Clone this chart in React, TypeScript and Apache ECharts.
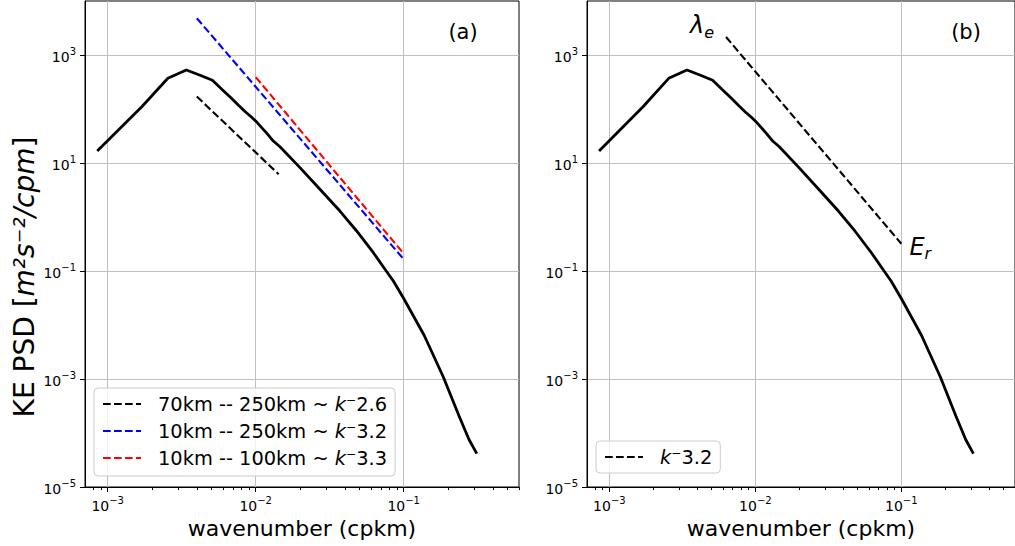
import React, { useEffect, useRef } from "react";
import * as echarts from "echarts";

// ---- data ----
const curveK = [0.00085, 0.0017, 0.00255, 0.0034, 0.00425, 0.0051, 0.00595, 0.0068, 0.00765, 0.0085, 0.00935, 0.0102, 0.0119, 0.01315, 0.01459, 0.01991, 0.02716, 0.03707, 0.04808, 0.06237, 0.07621, 0.08511, 0.1, 0.1374, 0.1849, 0.2366, 0.2761, 0.3119];
const curvePSD = [16.7, 110, 370, 527, 417, 340, 228, 162, 117, 89, 71, 56.6, 35.4, 25.5, 20.0, 8.2, 3.26, 1.29, 0.551, 0.218, 0.1, 0.0653, 0.0309, 0.00646, 0.0011, 0.000207, 0.0000759, 0.0000414];

const fitA_K = [0.004, 0.01429];
const fitA_PSD = [170, 6.2];
const fitB_K = [0.004, 0.1];
const fitB_PSD = [4800, 0.165];
const fitC_K = [0.01, 0.1];
const fitC_PSD = [390, 0.21];
const fitD_K = [0.0063, 0.1];
const fitD_PSD = [2150, 0.32];

const legendA = ["70km -- 250km ~ k^-2.6", "10km -- 250km ~ k^-3.2", "10km -- 100km ~ k^-3.3"];
const legendB = ["k^-3.2"];

const xMajorExp = [-3, -2, -1];
const yMajorExp = [-5, -3, -1, 1, 3];

const X_MIN = -3.1534;
const X_MAX = -0.221;
const Y_MIN = -5;
const Y_MAX = 4;

const FONT = "DejaVu Sans";

const L = (v: number) => Math.log10(v);
const pts = (ks: number[], vs: number[]) => ks.map((k, i) => [L(k), L(vs[i])]);

const xMinor: number[] = [];
for (let e = -4; e <= -1; e++) {
  for (let m = 2; m <= 9; m++) {
    const v = e + Math.log10(m);
    if (v > X_MIN && v < X_MAX) xMinor.push(v);
  }
}

const powLabel = (v: number) => "{b|10}{s|" + String(Math.round(v)).replace("-", "−") + "}";
const tickRich = {
  b: { fontFamily: FONT, fontSize: 14, color: "#000", lineHeight: 18, verticalAlign: "bottom" },
  s: { fontFamily: FONT, fontSize: 10, color: "#000", lineHeight: 10, verticalAlign: "top" },
};

const legendFmt = (name: string) => {
  const [pre, exp] = name.split("k^-");
  return pre + "{i|k}⁻" + exp;
};

const axisLineStyle = { color: "#000", width: 1 };
const gridLineStyle = { color: "#bfbfbf", width: 1 };

const makeX = (gi: number) => [
  {
    type: "value",
    gridIndex: gi,
    min: X_MIN,
    max: X_MAX,
    position: "bottom",
    axisLine: { show: true, onZero: false, lineStyle: axisLineStyle },
    axisTick: { show: true, customValues: xMajorExp, length: 5, lineStyle: axisLineStyle },
    axisLabel: {
      show: true,
      customValues: xMajorExp,
      formatter: powLabel,
      color: "#000",
      fontFamily: FONT,
      fontSize: 14,
      margin: 8,
      rich: tickRich,
    },
    splitLine: { show: true, lineStyle: gridLineStyle },
    name: "wavenumber (cpkm)",
    nameLocation: "middle",
    nameGap: 28,
    nameTextStyle: { fontFamily: FONT, fontSize: 22, color: "#000" },
  },
  {
    type: "value",
    gridIndex: gi,
    min: X_MIN,
    max: X_MAX,
    position: "bottom",
    axisLine: { show: false, onZero: false },
    axisTick: { show: true, customValues: xMinor, length: 3, lineStyle: axisLineStyle },
    axisLabel: { show: false },
    splitLine: { show: false },
  },
];

const makeY = (gi: number) => ({
  type: "value",
  gridIndex: gi,
  min: Y_MIN,
  max: Y_MAX,
  position: "left",
  axisLine: { show: true, onZero: false, lineStyle: axisLineStyle },
  axisTick: { show: true, customValues: yMajorExp, length: 5, lineStyle: axisLineStyle },
  axisLabel: {
    show: true,
    customValues: yMajorExp,
    formatter: powLabel,
    color: "#000",
    fontFamily: FONT,
    fontSize: 14,
    margin: 9,
    rich: tickRich,
  },
  splitLine: { show: true, lineStyle: gridLineStyle },
});

const dash = [7.7, 3.3];

export default function App() {
  const ref = useRef<HTMLDivElement>(null);
  useEffect(() => {
    if (!ref.current) return;
    const chart = echarts.init(ref.current, undefined, { renderer: "svg" });
    const curve = pts(curveK, curvePSD);
    const legendCommon = {
      orient: "vertical",
      itemWidth: 38,
      itemHeight: 14,
      itemGap: 7,
      backgroundColor: "rgba(255,255,255,0.8)",
      borderColor: "#cccccc",
      borderWidth: 1,
      borderRadius: 4,
      selectedMode: false,
      formatter: legendFmt,
      itemStyle: { color: "rgba(0,0,0,0)", borderColor: "rgba(0,0,0,0)", borderWidth: 0, opacity: 0 },
      textStyle: {
        fontFamily: FONT,
        fontSize: 19.4,
        color: "#000",
        lineHeight: 20,
        padding: [0, 0, 0, 12],
        rich: { i: { fontFamily: FONT, fontSize: 19.4, color: "#000", fontStyle: "italic" } },
      },
    };
    const option: any = {
      animation: false,
      backgroundColor: "#fff",
      grid: [
        { left: 85, top: 1, width: 434, height: 486, show: true, borderColor: "#000", borderWidth: 1, backgroundColor: "transparent" },
        { left: 587, top: 1, width: 434, height: 486, show: true, borderColor: "#000", borderWidth: 1, backgroundColor: "transparent" },
      ],
      xAxis: [...makeX(0), ...makeX(1)],
      yAxis: [makeY(0), makeY(1)],
      legend: [
        { ...legendCommon, data: legendA, left: 94, top: 388, padding: [6, 8, 8, 8] },
        { ...legendCommon, data: legendB, left: 596, top: 441, padding: [6, 8, 6, 8] },
      ],
      graphic: [
        {
          type: "text",
          x: 24,
          y: 277,
          rotation: Math.PI / 2,
          style: {
            text: "{n|KE PSD [}{i|m²s⁻²/cpm}{n|]}",
            align: "center",
            verticalAlign: "middle",
            rich: {
              n: { fontFamily: FONT, fontSize: 28, fill: "#000", color: "#000" },
              i: { fontFamily: FONT, fontSize: 28, fill: "#000", color: "#000", fontStyle: "italic" },
            },
          },
        },
        { type: "text", x: 463, y: 32, style: { text: "(a)", fontFamily: FONT, fontSize: 21, fill: "#000", align: "center", verticalAlign: "middle" } },
        { type: "text", x: 966, y: 32, style: { text: "(b)", fontFamily: FONT, fontSize: 21, fill: "#000", align: "center", verticalAlign: "middle" } },
      ],
      series: [
        { type: "line", name: "KE (a)", xAxisIndex: 0, yAxisIndex: 0, data: curve, symbol: "none", lineStyle: { color: "#000", width: 2.8 }, z: 3 },
        { type: "line", name: legendA[0], xAxisIndex: 0, yAxisIndex: 0, data: pts(fitA_K, fitA_PSD), symbol: "none", color: "#000", lineStyle: { color: "#000", width: 2.1, type: dash }, z: 4 },
        { type: "line", name: legendA[1], xAxisIndex: 0, yAxisIndex: 0, data: pts(fitB_K, fitB_PSD), symbol: "none", color: "#0000ff", lineStyle: { color: "#0000ff", width: 2.1, type: dash }, z: 4 },
        { type: "line", name: legendA[2], xAxisIndex: 0, yAxisIndex: 0, data: pts(fitC_K, fitC_PSD), symbol: "none", color: "#ff0000", lineStyle: { color: "#ff0000", width: 2.1, type: dash }, z: 4 },
        { type: "line", name: "KE (b)", xAxisIndex: 2, yAxisIndex: 1, data: curve, symbol: "none", lineStyle: { color: "#000", width: 2.8 }, z: 3 },
        {
          type: "line",
          name: legendB[0],
          xAxisIndex: 2,
          yAxisIndex: 1,
          data: pts(fitD_K, fitD_PSD),
          symbol: "none",
          color: "#000",
          lineStyle: { color: "#000", width: 2.1, type: dash },
          z: 4,
          markPoint: {
            symbol: "circle",
            symbolSize: 0,
            silent: true,
            itemStyle: { color: "transparent" },
            label: {
              show: true,
              position: "inside",
              rich: {
                l: { fontFamily: FONT, fontSize: 24, lineHeight: 24, color: "#000", fontStyle: "italic", verticalAlign: "top" },
                s: { fontFamily: FONT, fontSize: 16, lineHeight: 16, color: "#000", fontStyle: "italic", verticalAlign: "top", padding: [11, 0, 0, 0] },
              },
            },
            data: [
              { coord: [L(fitD_K[0]), L(fitD_PSD[0])], label: { formatter: "{l|λ}{s|e}", offset: [-24, -12] } },
              { coord: [L(fitD_K[1]), L(fitD_PSD[1])], label: { formatter: "{l|E}{s|r}", offset: [19, 3] } },
            ],
          },
        },
      ],
    };
    chart.setOption(option);
    return () => chart.dispose();
  }, []);
  return (
    <div
      ref={ref}
      style={{ position: "fixed", left: 0, top: 0, width: 1015, height: 546, background: "#fff" }}
    />
  );
}
